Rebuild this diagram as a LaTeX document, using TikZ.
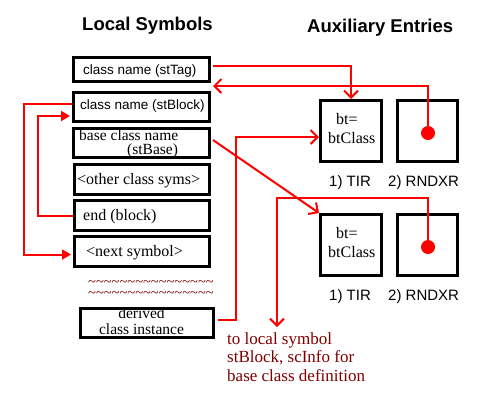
\documentclass[tikz,border=0pt]{standalone}
\usepackage{fontspec}
\setmainfont{Liberation Serif}
\setsansfont{Liberation Sans}
\usetikzlibrary{arrows.meta,calc}
\definecolor{dkred}{RGB}{128,0,0}
\newcommand{\tildes}{\textasciitilde\textasciitilde\textasciitilde\textasciitilde\textasciitilde\textasciitilde\textasciitilde\textasciitilde\textasciitilde\textasciitilde\textasciitilde\textasciitilde\textasciitilde\textasciitilde\textasciitilde\textasciitilde}
\begin{document}
\begin{tikzpicture}[x=1pt,y=-1pt,
  box/.style={draw=black,line width=3pt,inner sep=0pt},
  conn/.style={draw=red,line width=2pt},
  barb/.style={-{Straight Barb[length=7pt,width=14pt]}},
  tri/.style={-{Triangle[length=9pt,width=10pt]},shorten >=2pt},
  txt/.style={inner sep=0pt,anchor=base west},
  serif/.style={font=\fontsize{16}{19}\selectfont},
  sans/.style={font=\sffamily\fontsize{13.5}{16}\selectfont},
  lab/.style={font=\sffamily\fontsize{15}{18}\selectfont},
  title/.style={font=\sffamily\bfseries\fontsize{18.5}{22}\selectfont},
  note/.style={font=\fontsize{17}{18.5}\selectfont,text=dkred,align=left,inner sep=0pt},
  tilde/.style={font=\fontsize{14.5}{11}\selectfont,text=dkred,inner sep=0pt,align=left},
  dot/.style={circle,fill=red,minimum size=14pt,inner sep=0pt}]
\useasboundingbox[fill=white] (0,0) rectangle (500,400);

% titles
\node[title,txt] (t1) at (82,30) {Local Symbols};
\node[title,txt] (t2) at (307,32) {Auxiliary Entries};

% local symbol boxes
\node[box,minimum width=136pt,minimum height=24pt] (stTag) at (141.5,69.5) {};
\node[box,minimum width=136pt,minimum height=29pt] (stBlock) at (141.5,107) {};
\node[box,minimum width=136pt,minimum height=29pt] (stBase) at (141.5,143) {};
\node[box,minimum width=135pt,minimum height=30pt] (other) at (142,179.5) {};
\node[box,minimum width=135pt,minimum height=30pt] (endb) at (142,215.5) {};
\node[box,minimum width=135pt,minimum height=30pt] (next) at (142,251.5) {};
\node[box,minimum width=133pt,minimum height=29pt] (derived) at (147,323) {};

\node[sans,txt] (xTag) at (83,74) {class name (stTag)};
\node[sans,txt] (xBlock) at (80,109) {class name (stBlock)};
\node[font=\fontsize{15.5}{13.5}\selectfont,inner sep=0pt,align=left,anchor=north west] (xBase) at (79,130) {base class name\\\hspace*{48pt}(stBase)};
\node[serif,txt] (xOther) at (77,184) {<other class syms>};
\node[serif,txt] (xEnd) at (83,220) {end (block)};
\node[serif,txt] (xNext) at (86,256) {<next symbol>};
\node[font=\fontsize{15.5}{16}\selectfont,inner sep=0pt,align=center,anchor=north] (xDer) at (141.5,308) {derived\\class instance};

\node[tilde,anchor=north west] (tl) at (88,280.5) {\tildes\\\tildes};

% auxiliary boxes
\node[box,minimum width=61pt,minimum height=61pt] (TIR1) at (351,131) {};
\node[box,minimum width=60pt,minimum height=61pt] (RND1) at (427.5,131) {};
\node[box,minimum width=61pt,minimum height=61pt] (TIR2) at (351,245) {};
\node[box,minimum width=60pt,minimum height=61pt] (RND2) at (427.5,245) {};

\node[serif,txt] (bt1a) at (336,124) {bt=};
\node[serif,txt] (bt1b) at (328,143) {btClass};
\node[serif,txt] (bt2a) at (336,238) {bt=};
\node[serif,txt] (bt2b) at (328,257) {btClass};

\node[lab,txt] (l1a) at (329,186) {1) TIR};
\node[lab,txt] (l1b) at (388,186) {2) RNDXR};
\node[lab,txt] (l2a) at (329,300) {1) TIR};
\node[lab,txt] (l2b) at (388,300) {2) RNDXR};

\node[dot] (dot1) at (428,133) {};
\node[dot] (dot2) at (428,247) {};

\node[note,anchor=north west] (note) at (227,332) {to local symbol\\stBlock, scInfo for\\base class definition};

% connectors
\coordinate (c1) at ($(stTag.east)+(2,-3.5)$);
\draw[conn,barb] (c1) -| (TIR1.north);

\coordinate (c2) at ($(stBlock.north east)+(2,-5)$);
\draw[conn,barb] (dot1.center) |- (c2);

\coordinate (c3s) at ($(stBlock.west)+(0,-3)$);
\coordinate (c3e) at ($(next.west)+(0,3)$);
\draw[conn,tri] (c3s) -- ++(-48,0) |- (c3e);

\coordinate (c4e) at ($(stBlock.west)+(0,9)$);
\draw[conn,tri] (endb.west) -- ++(-35,0) |- (c4e);

\coordinate (c5) at ($(stBase.east)+(2,-3)$);
\draw[conn,barb] (c5) -- (TIR2.north west);

\coordinate (c6s) at ($(derived.east)+(3,-3)$);
\coordinate (c6e) at ($(TIR1.west)+(0,6)$);
\draw[conn,barb] (c6s) -- ++(18,0) |- (c6e);

\coordinate (c7) at ($(note.north west)+(50,-5)$);
\draw[conn,barb] (dot2.center) -- ++(0,-49) -| (c7);
\end{tikzpicture}
\end{document}
